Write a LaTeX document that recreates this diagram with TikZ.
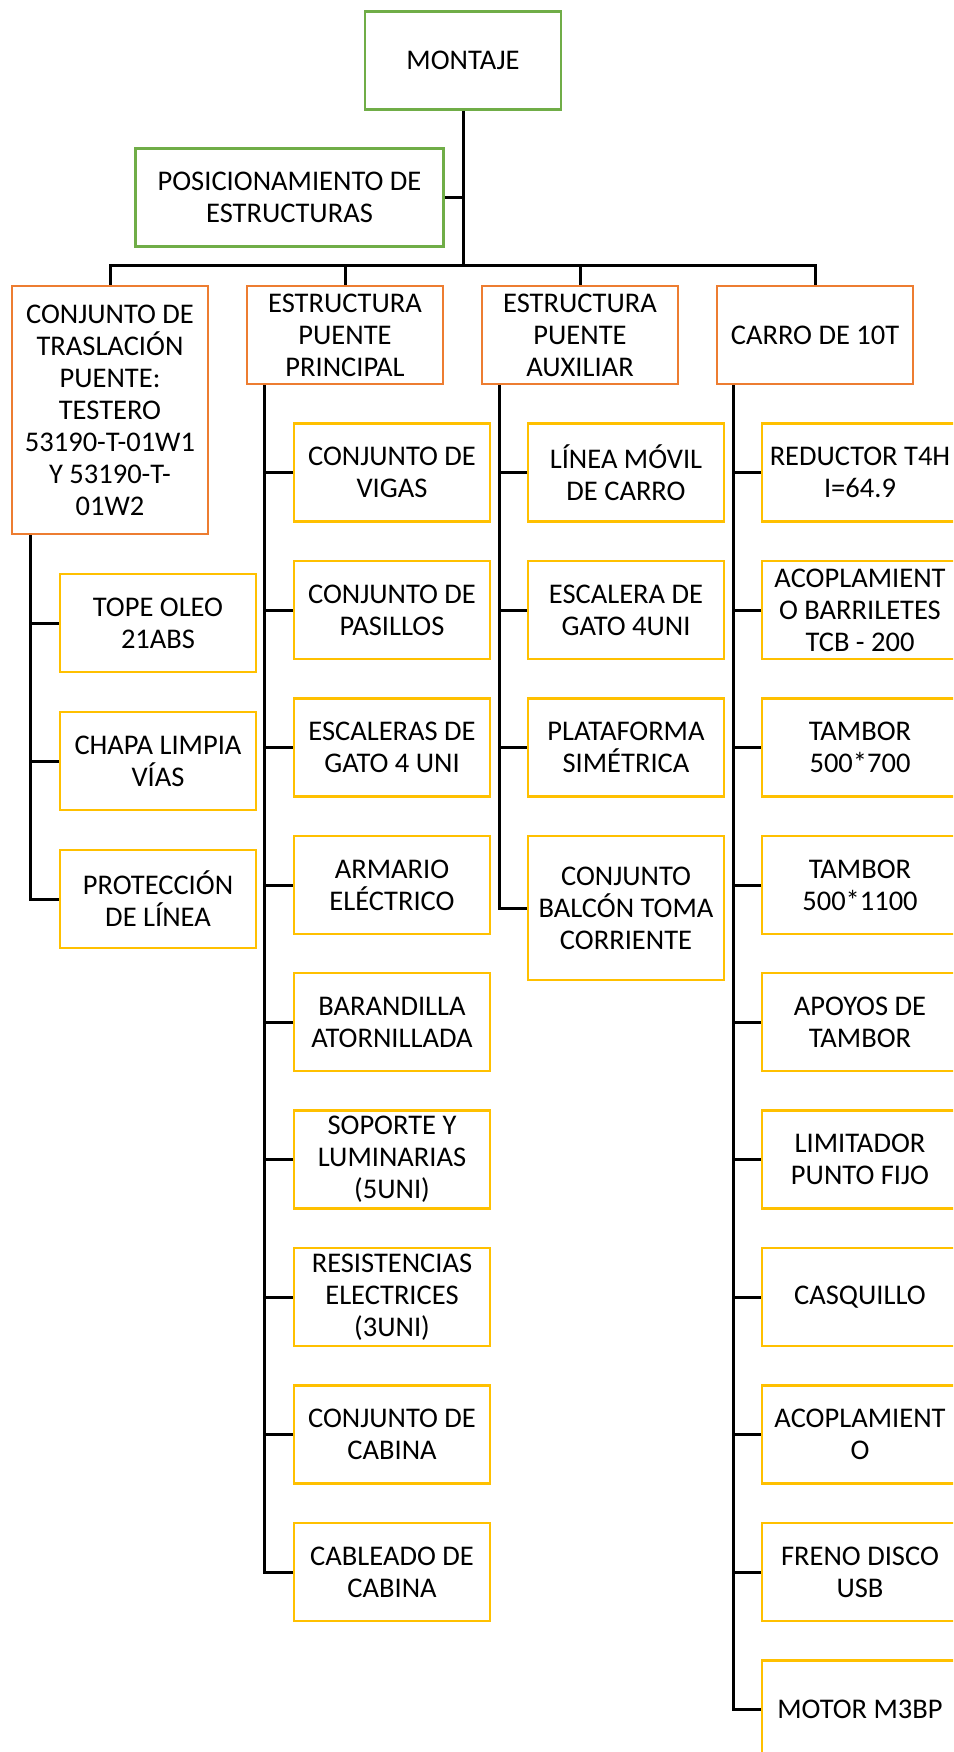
\documentclass[tikz,border=0pt]{standalone}
\usepackage{fontspec}
\setmainfont{Carlito}
\definecolor{verde}{HTML}{70AD47}
\definecolor{naranja}{HTML}{ED7D31}
\definecolor{amarillo}{HTML}{FFC000}
\tikzstyle{raiz}=[draw=verde]
\tikzstyle{grupo}=[draw=naranja]
\tikzstyle{pieza}=[draw=amarillo]

\begin{document}
\begin{tikzpicture}[x=1pt, y=-1pt, line width=3pt,
  nodes={rectangle, line width=2.6pt, minimum width=196pt, minimum height=98pt,
    inner sep=0pt, align=center, font=\fontsize{28.5}{32}\selectfont}]
\path[use as bounding box, fill=white] (0,0) rectangle (953,1752);
\clip (0,0) rectangle (953,1752);

\node [raiz] (montaje) at (463,60.5) {MONTAJE};
\node [raiz, minimum width=308pt] (posic) at (289.5,197.5) {POSICIONAMIENTO DE\\ESTRUCTURAS};
\coordinate (bus) at (463,266);

\node [grupo, minimum height=248pt] (trasl) at (110,410) {CONJUNTO DE\\TRASLACIÓN\\PUENTE:\\TESTERO\\53190-T-01W1\\Y 53190-T-\\01W2};
\node [grupo] (ppal) at (345,335) {ESTRUCTURA\\PUENTE\\PRINCIPAL};
\node [grupo] (aux) at (580,335) {ESTRUCTURA\\PUENTE\\AUXILIAR};
\node [grupo] (carro) at (815,335) {CARRO DE 10T};
\coordinate (t1) at ([xshift=20pt]trasl.south west);
\coordinate (t2) at ([xshift=19pt]ppal.south west);
\coordinate (t3) at ([xshift=19pt]aux.south west);
\coordinate (t4) at ([xshift=18pt]carro.south west);

\node [pieza] (tope) at (158,623) {TOPE OLEO\\21ABS};
\node [pieza] (chapa) at (158,761) {CHAPA LIMPIA\\VÍAS};
\node [pieza] (protec) at (158,899) {PROTECCIÓN\\DE LÍNEA};

\node [pieza] (vigas) at (392,472.5) {CONJUNTO DE\\VIGAS};
\node [pieza] (pasillos) at (392,610) {CONJUNTO DE\\PASILLOS};
\node [pieza] (escaleras) at (392,747.5) {ESCALERAS DE\\GATO 4 UNI};
\node [pieza] (armario) at (392,885) {ARMARIO\\ELÉCTRICO};
\node [pieza] (barandilla) at (392,1022) {BARANDILLA\\ATORNILLADA};
\node [pieza] (soporte) at (392,1159.5) {SOPORTE Y\\LUMINARIAS\\(5UNI)};
\node [pieza] (resist) at (392,1297) {RESISTENCIAS\\ELECTRICES\\(3UNI)};
\node [pieza] (cabina) at (392,1434.5) {CONJUNTO DE\\CABINA};
\node [pieza] (cableado) at (392,1572) {CABLEADO DE\\CABINA};

\node [pieza] (linea) at (626,472.5) {LÍNEA MÓVIL\\DE CARRO};
\node [pieza] (escalera) at (626,610) {ESCALERA DE\\GATO 4UNI};
\node [pieza] (plataforma) at (626,747.5) {PLATAFORMA\\SIMÉTRICA};
\node [pieza, minimum height=144pt] (balcon) at (626,908) {CONJUNTO\\BALCÓN TOMA\\CORRIENTE};

\node [pieza] (reductor) at (860,472.5) {REDUCTOR T4H\\I=64.9};
\node [pieza] (barriletes) at (860,610) {ACOPLAMIENT\\O BARRILETES\\TCB - 200};
\node [pieza] (tambor1) at (860,747.5) {TAMBOR\\500*700};
\node [pieza] (tambor2) at (860,885) {TAMBOR\\500*1100};
\node [pieza] (apoyos) at (860,1022) {APOYOS DE\\TAMBOR};
\node [pieza] (limitador) at (860,1159.5) {LIMITADOR\\PUNTO FIJO};
\node [pieza] (casquillo) at (860,1297) {CASQUILLO};
\node [pieza] (acopl) at (860,1434.5) {ACOPLAMIENT\\O};
\node [pieza] (freno) at (860,1572) {FRENO DISCO\\USB};
\node [pieza] (motor) at (860,1709.5) {MOTOR M3BP};

\draw (montaje.south) -- (bus);
\draw (posic.east) -- (posic.east -| bus);
\foreach \g in {trasl,ppal,aux,carro}
  \draw (bus) -| (\g.north);
\draw (t1) |- (protec.west);
\draw (t2) |- (cableado.west);
\draw (t3) |- (balcon.west);
\draw (t4) |- (motor.west);
\foreach \p in {tope,chapa}
  \draw (\p.west) -- (\p.west -| t1);
\foreach \p in {vigas,pasillos,escaleras,armario,barandilla,soporte,resist,cabina}
  \draw (\p.west) -- (\p.west -| t2);
\foreach \p in {linea,escalera,plataforma}
  \draw (\p.west) -- (\p.west -| t3);
\foreach \p in {reductor,barriletes,tambor1,tambor2,apoyos,limitador,casquillo,acopl,freno}
  \draw (\p.west) -- (\p.west -| t4);
\end{tikzpicture}
\end{document}
